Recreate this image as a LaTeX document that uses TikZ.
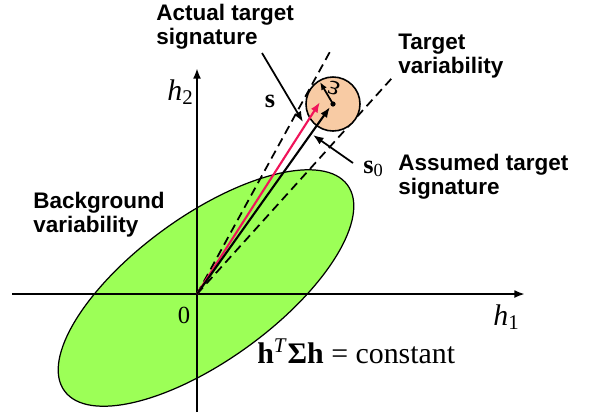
\documentclass[tikz,border=0pt]{standalone}
\usepackage{fontspec}
\setmainfont{Liberation Serif}
\setsansfont{Liberation Sans}
\usetikzlibrary{arrows.meta}
\definecolor{bgreen}{HTML}{9CFF57}
\definecolor{peach}{HTML}{F8CBA4}
\definecolor{sred}{HTML}{F0145A}

\begin{document}
\begin{tikzpicture}[x=0.02cm,y=-0.02cm,>={Latex[length=6pt,width=4.5pt]},
  lbl/.style={font=\sffamily\bfseries\fontsize{12.8}{13.6}\selectfont,align=left,anchor=north west,inner sep=0pt},
  sym/.style={font=\fontsize{17}{18}\selectfont,inner sep=0pt},
  tang/.style={line width=1pt,dash pattern=on 5pt off 3pt},
  vec/.style={->,line width=1.2pt},
  pointer/.style={->,line width=1pt}]
  \useasboundingbox (0,0) rectangle (590,414);

  % Background clutter ellipse
  \filldraw[fill=bgreen,draw=black,line width=0.7pt,rotate around={36:(206,288)}]
    (206,288) ellipse [x radius=175,y radius=72];

  % Axes
  \coordinate (O) at (197,294);
  \coordinate (xl) at (12,294);
  \coordinate (xr) at (525,294);
  \coordinate (yb) at (197,412);
  \coordinate (yt) at (197,68);
  \draw[->,line width=1.4pt] (xl)--(xr);
  \draw[->,line width=1.4pt] (yb)--(yt);

  % Cone tangent to the target circle
  \coordinate (C) at (333,104);
  \coordinate (tl) at (332,48);
  \coordinate (tr) at (392,78);
  \draw[tang] (O)--(tl);
  \draw[tang] (O)--(tr);
  \filldraw[fill=peach,draw=black,line width=0.9pt] (C) circle [radius=27];

  % Signatures
  \coordinate (stip) at (320,102);
  \coordinate (s0tip) at (330,107);
  \coordinate (etip) at (320,82);
  \draw[vec,sred] (O)--(stip);
  \draw[vec] (O)--(s0tip);
  \fill (C) circle [radius=2.6];
  \draw[->,line width=1pt,>={Latex[length=4.5pt,width=3.5pt]}] (C)--(etip);
  \node[font=\fontsize{16}{17}\selectfont,rotate=165,inner sep=0pt] (eps) at (334,88) {ε};

  % Labels
  \node[lbl] (actual) at (156,4) {Actual target\\signature};
  \node[lbl] (tvar) at (398,34) {Target\\variability};
  \node[lbl] (assumed) at (398,154) {Assumed target\\signature};
  \node[lbl] (bvar) at (33,192) {Background\\variability};
  \coordinate (pa) at (262,53);
  \coordinate (pat) at (303,122);
  \coordinate (ps) at (353,163);
  \coordinate (pst) at (313,135);
  \draw[pointer] (pa)--(pat);
  \draw[pointer] (ps)--(pst);

  \node[sym,font=\fontsize{15}{17}\selectfont,anchor=base] (s) at (270,107) {\textbf{s}};
  \node[sym,font=\fontsize{15}{17}\selectfont,anchor=base west] (s0) at (363,173) {\textbf{s}\textsubscript{0}};
  \node[sym,anchor=base west] (h2) at (167,100) {\textit{h}\textsubscript{2}};
  \node[sym,anchor=base west] (h1) at (493,325) {\textit{h}\textsubscript{1}};
  \node[sym,font=\fontsize{14}{16}\selectfont,anchor=base] (zero) at (184,323) {0};
  \node[sym,anchor=base west] (quad) at (257,363)
    {\textbf{h}\textsuperscript{\textit{T}}\textbf{Σh} = constant};
\end{tikzpicture}
\end{document}
